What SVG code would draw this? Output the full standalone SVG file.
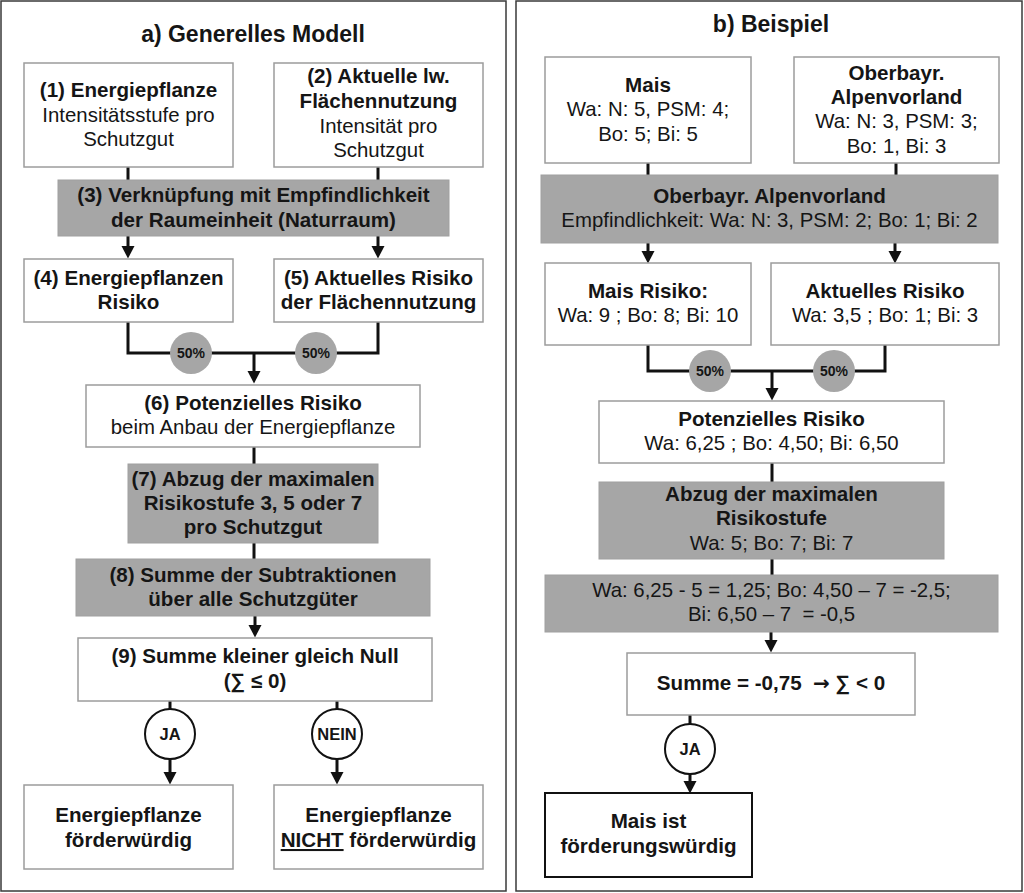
<svg xmlns="http://www.w3.org/2000/svg" width="1024" height="893" viewBox="0 0 1024 893">
<style>
text{font-family:"Liberation Sans",Arial,sans-serif;fill:#151515;text-anchor:middle}
.t{font-size:23px;font-weight:bold}
.b{font-size:20.6px;font-weight:bold}
.r{font-size:20.4px}
.p{font-size:14px;font-weight:bold}
.j{font-size:16.5px;font-weight:bold}
.box{fill:#fff;stroke:#9c9c9c;stroke-width:1.5}
.gbox{fill:#a6a6a6;stroke:#a0a0a0;stroke-width:1}
.frame{fill:#fff;stroke:#3a3a3a;stroke-width:1.5}
.con{fill:none;stroke:#111;stroke-width:3}
.arr{fill:none;stroke:#111;stroke-width:3;marker-end:url(#ah)}
.pc{fill:#a6a6a6}
.jc{fill:#fff;stroke:#111;stroke-width:2}
</style>
<defs>
<marker id="ah" markerUnits="userSpaceOnUse" markerWidth="13" markerHeight="14" refX="6" refY="7" orient="auto">
<path d="M0,0.5 L12.5,7 L0,13.5 z" fill="#111"/>
</marker>
</defs>
<rect width="1024" height="893" fill="#fff"/>
<rect class="frame" x="1" y="1" width="505" height="890"/>
<rect class="frame" x="516" y="1" width="506" height="890"/>
<text class="t" x="253" y="42">a) Generelles Modell</text>
<text class="t" x="771" y="32">b) Beispiel</text>

<g id="connectors">
<path class="con" d="M128,167 V180"/>
<path class="con" d="M378,167 V180"/>
<path class="arr" d="M128,236 V252"/>
<path class="arr" d="M378,236 V252"/>
<path class="con" d="M128,322 V353 H378 V322"/>
<path class="arr" d="M254,353 V377"/>
<path class="con" d="M254,447 V464"/>
<path class="con" d="M254,543 V559"/>
<path class="arr" d="M255,616 V631"/>
<path class="con" d="M170,701 V709"/>
<path class="arr" d="M170,759 V778"/>
<path class="con" d="M337,701 V709"/>
<path class="arr" d="M337,759 V778"/>
<path class="con" d="M648,163 V175"/>
<path class="con" d="M896,163 V175"/>
<path class="arr" d="M648,243 V257"/>
<path class="arr" d="M895,243 V257"/>
<path class="con" d="M648,345 V371 H885 V345"/>
<path class="arr" d="M772,371 V394"/>
<path class="con" d="M772,463 V482"/>
<path class="con" d="M772,559 V575"/>
<path class="arr" d="M771,632 V646"/>
<path class="con" d="M690,715 V724"/>
<path class="arr" d="M690,774 V787"/>
</g>

<g id="n1"><rect class="box" x="24" y="63" width="209" height="104"/>
<text class="b" x="128.5" y="97">(1) Energiepflanze</text>
<text class="r" x="128.5" y="122">Intensitätsstufe pro</text>
<text class="r" x="128.5" y="146">Schutzgut</text></g>

<g id="n2"><rect class="box" x="274" y="63" width="209" height="104"/>
<text class="b" x="378.5" y="83">(2) Aktuelle lw.</text>
<text class="b" x="378.5" y="108">Flächennutzung</text>
<text class="r" x="378.5" y="133">Intensität pro</text>
<text class="r" x="378.5" y="157">Schutzgut</text></g>

<g id="n3"><rect class="gbox" x="58" y="180" width="391" height="56"/>
<text class="b" x="253.5" y="202">(3) Verknüpfung mit Empfindlichkeit</text>
<text class="b" x="253.5" y="227">der Raumeinheit (Naturraum)</text></g>

<g id="n4"><rect class="box" x="24" y="259" width="209" height="63"/>
<text class="b" x="128.5" y="285">(4) Energiepflanzen</text>
<text class="b" x="128.5" y="309">Risiko</text></g>

<g id="n5"><rect class="box" x="274" y="259" width="209" height="63"/>
<text class="b" x="378.5" y="285">(5) Aktuelles Risiko</text>
<text class="b" x="378.5" y="309">der Flächennutzung</text></g>

<g id="w1"><circle class="pc" cx="191" cy="353" r="21"/><text class="p" x="191" y="358">50%</text></g>
<g id="w2"><circle class="pc" cx="316" cy="353" r="21"/><text class="p" x="316" y="358">50%</text></g>

<g id="n6"><rect class="box" x="86" y="385" width="334" height="62"/>
<text class="b" x="253" y="410">(6) Potenzielles Risiko</text>
<text class="r" x="253" y="434">beim Anbau der Energiepflanze</text></g>

<g id="n7"><rect class="gbox" x="128" y="464" width="250" height="79"/>
<text class="b" x="253" y="486">(7) Abzug der maximalen</text>
<text class="b" x="253" y="510">Risikostufe 3, 5 oder 7</text>
<text class="b" x="253" y="534">pro Schutzgut</text></g>

<g id="n8"><rect class="gbox" x="76" y="559" width="354" height="57"/>
<text class="b" x="253" y="582">(8) Summe der Subtraktionen</text>
<text class="b" x="253" y="606">über alle Schutzgüter</text></g>

<g id="n9"><rect class="box" x="78" y="638" width="354" height="63"/>
<text class="b" x="255" y="663">(9) Summe kleiner gleich Null</text>
<text class="b" x="255" y="688">(∑ ≤ 0)</text></g>

<g id="ja1"><circle class="jc" cx="170" cy="734" r="25"/><text class="j" x="170" y="740">JA</text></g>
<g id="nein1"><circle class="jc" cx="337" cy="734" r="25"/><text class="j" x="337" y="740">NEIN</text></g>

<g id="n10"><rect class="box" x="24" y="785" width="209" height="84"/>
<text class="b" x="128.5" y="822">Energiepflanze</text>
<text class="b" x="128.5" y="847">förderwürdig</text></g>

<g id="n11"><rect class="box" x="274" y="785" width="209" height="84"/>
<text class="b" x="378.5" y="822">Energiepflanze</text>
<text class="b" x="378.5" y="847"><tspan text-decoration="underline">NICHT</tspan> förderwürdig</text></g>

<g id="m1"><rect class="box" x="545" y="57" width="206" height="106"/>
<text class="b" x="648" y="92">Mais</text>
<text class="r" x="648" y="116">Wa: N: 5, PSM: 4;</text>
<text class="r" x="648" y="141">Bo: 5; Bi: 5</text></g>

<g id="m2"><rect class="box" x="794" y="57" width="205" height="106"/>
<text class="b" x="896.5" y="80">Oberbayr.</text>
<text class="b" x="896.5" y="104">Alpenvorland</text>
<text class="r" x="896.5" y="128">Wa: N: 3, PSM: 3;</text>
<text class="r" x="896.5" y="153">Bo: 1, Bi: 3</text></g>

<g id="m3"><rect class="gbox" x="541" y="175" width="457" height="68"/>
<text class="b" x="769.5" y="203">Oberbayr. Alpenvorland</text>
<text class="r" x="769.5" y="227">Empfindlichkeit: Wa: N: 3, PSM: 2; Bo: 1; Bi: 2</text></g>

<g id="m4"><rect class="box" x="545" y="263" width="206" height="82"/>
<text class="b" x="648" y="298">Mais Risiko:</text>
<text class="r" x="648" y="322">Wa: 9 ; Bo: 8; Bi: 10</text></g>

<g id="m5"><rect class="box" x="771" y="263" width="228" height="82"/>
<text class="b" x="885" y="298">Aktuelles Risiko</text>
<text class="r" x="885" y="322">Wa: 3,5 ; Bo: 1; Bi: 3</text></g>

<g id="w3"><circle class="pc" cx="710" cy="371" r="21"/><text class="p" x="710" y="376">50%</text></g>
<g id="w4"><circle class="pc" cx="834" cy="371" r="21"/><text class="p" x="834" y="376">50%</text></g>

<g id="m6"><rect class="box" x="599" y="401" width="345" height="62"/>
<text class="b" x="771.5" y="426">Potenzielles Risiko</text>
<text class="r" x="771.5" y="450">Wa: 6,25 ; Bo: 4,50; Bi: 6,50</text></g>

<g id="m7"><rect class="gbox" x="599" y="482" width="345" height="77"/>
<text class="b" x="771.5" y="501">Abzug der maximalen</text>
<text class="b" x="771.5" y="525">Risikostufe</text>
<text class="r" x="771.5" y="550">Wa: 5; Bo: 7; Bi: 7</text></g>

<g id="m8"><rect class="gbox" x="545" y="575" width="453" height="57"/>
<text class="r" x="771.5" y="597">Wa: 6,25 - 5 = 1,25; Bo: 4,50 – 7 = -2,5;</text>
<text class="r" x="771.5" y="621" xml:space="preserve">Bi: 6,50 – 7  = -0,5</text></g>

<g id="m9"><rect class="box" x="627" y="653" width="288" height="62"/>
<text class="b" x="771" y="690" xml:space="preserve">Summe = -0,75  <tspan style="font-family:'DejaVu Sans',sans-serif" font-size="20">→</tspan> ∑ &lt; 0</text></g>

<g id="ja2"><circle class="jc" cx="690" cy="749" r="25"/><text class="j" x="690" y="755">JA</text></g>

<g id="m10"><rect x="545" y="793" width="207" height="84" fill="#fff" stroke="#111" stroke-width="2"/>
<text class="b" x="648.5" y="828">Mais ist</text>
<text class="b" x="648.5" y="853">förderungswürdig</text></g>
</svg>
